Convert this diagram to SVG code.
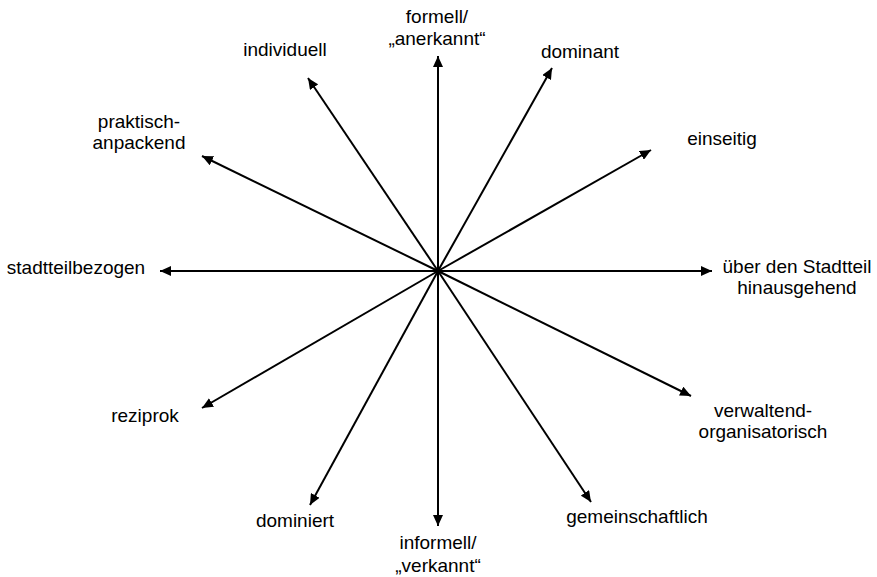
<svg xmlns="http://www.w3.org/2000/svg" width="877" height="577" viewBox="0 0 877 577">
<style>
.c line{stroke:#000;stroke-width:2;marker-end:url(#ah)}
text{font-family:"Liberation Sans",Arial,sans-serif;font-size:19px;fill:#000;text-anchor:middle}
</style>
<defs>
<marker id="ah" markerUnits="userSpaceOnUse" markerWidth="12" markerHeight="10" viewBox="0 0 12 10" refX="11" refY="5" orient="auto">
<path d="M0,0 L11,5 L0,10 Z" fill="#000"/>
</marker>
</defs>
<rect width="877" height="577" fill="#fff"/>
<g class="c" id="connectors">
<line x1="438" y1="271" x2="438" y2="56"/>
<line x1="438" y1="271" x2="438" y2="526"/>
<line x1="438" y1="271" x2="160" y2="271"/>
<line x1="438" y1="271" x2="712" y2="271"/>
<line x1="438" y1="271" x2="308" y2="78"/>
<line x1="438" y1="271" x2="552" y2="68"/>
<line x1="438" y1="271" x2="651" y2="150"/>
<line x1="438" y1="271" x2="202" y2="156"/>
<line x1="438" y1="271" x2="202" y2="408"/>
<line x1="438" y1="271" x2="310" y2="505"/>
<line x1="438" y1="271" x2="591" y2="502"/>
<line x1="438" y1="271" x2="691" y2="396"/>
</g>
<g id="n-formell"><text x="437" y="23">formell/</text><text x="437" y="45">„anerkannt“</text></g>
<g id="n-informell"><text x="438" y="549">informell/</text><text x="438" y="572">„verkannt“</text></g>
<g id="n-stadtteilbezogen"><text x="76" y="274">stadtteilbezogen</text></g>
<g id="n-ueber"><text x="797" y="273">über den Stadtteil</text><text x="797" y="294">hinausgehend</text></g>
<g id="n-individuell"><text x="285" y="56">individuell</text></g>
<g id="n-dominant"><text x="580" y="58">dominant</text></g>
<g id="n-einseitig"><text x="722" y="145">einseitig</text></g>
<g id="n-praktisch"><text x="139" y="128">praktisch-</text><text x="139" y="149">anpackend</text></g>
<g id="n-reziprok"><text x="145" y="422">reziprok</text></g>
<g id="n-dominiert"><text x="295" y="527">dominiert</text></g>
<g id="n-gemeinschaftlich"><text x="637" y="523">gemeinschaftlich</text></g>
<g id="n-verwaltend"><text x="763" y="417">verwaltend-</text><text x="763" y="438">organisatorisch</text></g>
</svg>
